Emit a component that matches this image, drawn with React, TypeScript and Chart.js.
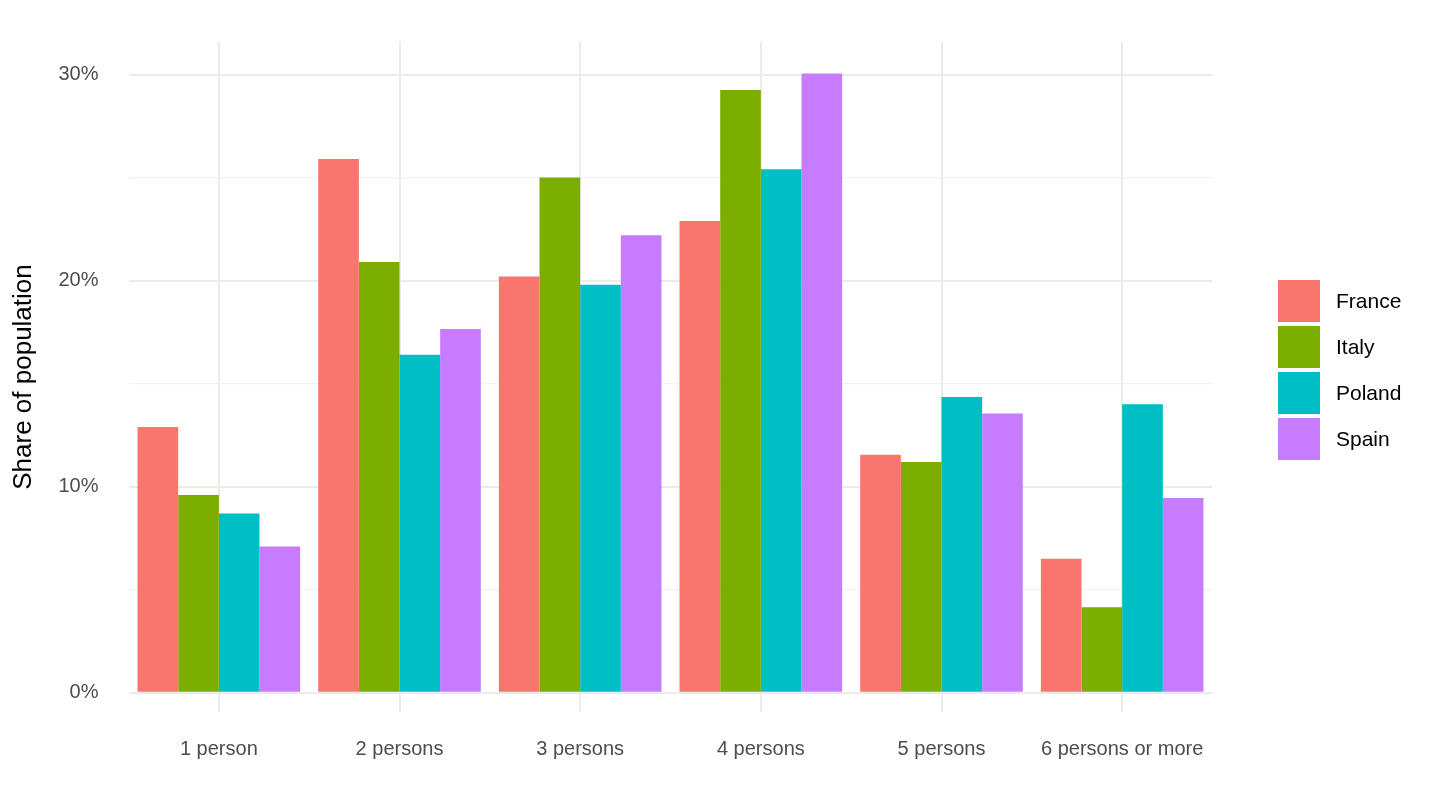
import React, { useEffect, useRef } from "react";
import { Chart, registerables } from "chart.js";
Chart.register(...registerables);

const categories = ["1 person", "2 persons", "3 persons", "4 persons", "5 persons", "6 persons or more"];
const countries = ["France", "Italy", "Poland", "Spain"];
const colors = ["#F8766D", "#7CAE00", "#00BFC4", "#C77CFF"];
const france = [12.9, 25.9, 20.2, 22.9, 11.55, 6.5];
const italy = [9.6, 20.9, 25.0, 29.25, 11.2, 4.15];
const poland = [8.7, 16.4, 19.8, 25.4, 14.35, 14.0];
const spain = [7.1, 17.65, 22.2, 30.05, 13.55, 9.45];
const series = [france, italy, poland, spain];
const yTicks = [0, 5, 10, 15, 20, 25, 30];

export default function App() {
  const ref = useRef<HTMLCanvasElement>(null);
  useEffect(() => {
    const chart = new Chart(ref.current!, {
      type: "bar",
      data: {
        labels: categories,
        datasets: series.map((d, i) => ({
          label: countries[i],
          data: d,
          backgroundColor: colors[i],
          categoryPercentage: 0.9,
          barPercentage: 1,
        })),
      },
      options: {
        responsive: false,
        animation: false,
        layout: { padding: { left: 0, right: 227.5, top: -14, bottom: 0 } },
        plugins: { legend: { display: false }, tooltip: { enabled: false } },
        scales: {
          x: {
            grid: { offset: false, color: "#ebebeb", lineWidth: 2, drawTicks: false },
            border: { display: false },
            ticks: { color: "#4d4d4d", font: { family: "Liberation Sans, Arial", size: 20 }, padding: 25 },
            afterFit: (s: any) => { s.height = 98; },
          },
          y: {
            min: -0.93,
            max: 31.58,
            afterBuildTicks: (s: any) => { s.ticks = yTicks.map((v) => ({ value: v })); },
            grid: {
              drawTicks: false,
              color: (c: any) => (c.tick && c.tick.value % 10 === 0 ? "#ebebeb" : "#f2f2f2"),
              lineWidth: (c: any) => (c.tick && c.tick.value % 10 === 0 ? 2 : 1.2),
            },
            border: { display: false },
            ticks: {
              color: "#4d4d4d",
              font: { family: "Liberation Sans, Arial", size: 20 },
              padding: 30,
              callback: (v: any) => (Number(v) % 10 === 0 ? v + "%" : ""),
            },
            title: {
              display: true,
              text: "Share of population",
              color: "#000",
              font: { family: "Liberation Sans, Arial", size: 26 },
              padding: { top: 8, bottom: 12 },
            },
            afterFit: (s: any) => { s.width = 128.5; },
          },
        },
      },
    });
    return () => chart.destroy();
  }, []);
  return (
    <div style={{ position: "fixed", left: 0, top: 0, width: 1440, height: 810, background: "#fff" }}>
      <canvas ref={ref} width={1440} height={810} />
      {countries.map((c, i) => (
        <div key={c} style={{ position: "absolute", left: 1278, top: 280 + i * 46, display: "flex", alignItems: "center" }}>
          <div style={{ width: 42, height: 42, background: colors[i] }} />
          <span style={{ marginLeft: 16, fontFamily: "Liberation Sans, Arial", fontSize: 21, color: "#000" }}>{c}</span>
        </div>
      ))}
    </div>
  );
}
